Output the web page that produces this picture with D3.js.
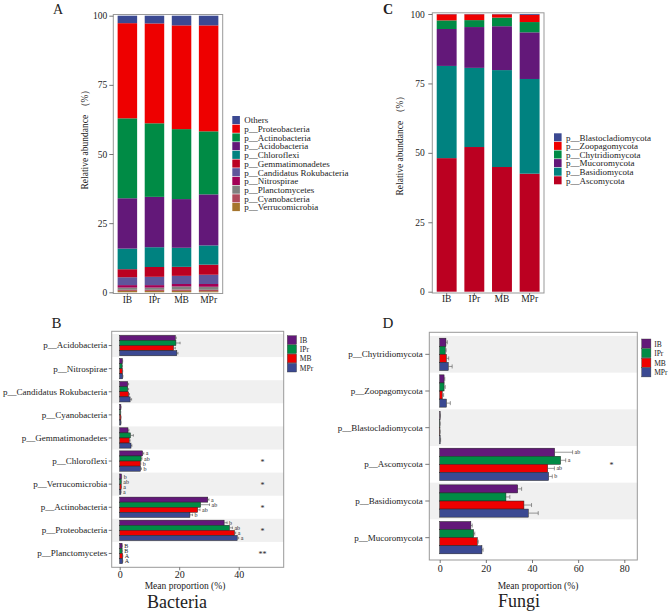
<!DOCTYPE html>
<html><head><meta charset="utf-8">
<script src="https://cdn.jsdelivr.net/npm/d3@7"></script>
<style>
body{margin:0;background:#fff}
svg{display:block}
text{font-family:"Liberation Serif","Times New Roman",serif;fill:#222}
</style>
</head><body>
<svg id="c" width="669" height="614"></svg>
<script>
// ---------- DATA ----------
const groups = ["IB","IPr","MB","MPr"];
const groupColors = ["#631879","#008B45","#EE0000","#3B4992"];

// Panel A (legend order, top -> bottom)
const bacStackPhyla = ["Others","p__Proteobacteria","p__Actinobacteria","p__Acidobacteria","p__Chloroflexi","p__Gemmatimonadetes","p__Candidatus Rokubacteria","p__Nitrospirae","p__Planctomycetes","p__Cyanobacteria","p__Verrucomicrobia"];
const bacStackColors = ["#3B4992","#EE0000","#008B45","#631879","#008280","#BB0021","#5F559B","#A20056","#808180","#B04A5D","#A5752E"];
const bacStackIB  = [2.7,34.4,28.9,18.2,7.45,2.9,2.85,0.9,0.8,0.4,0.5];
const bacStackIPr = [2.8,36.1,26.6,18.2,7.15,3.55,3.0,0.9,0.8,0.4,0.5];
const bacStackMB  = [3.5,37.5,25.3,17.6,6.9,3.25,2.95,0.9,1.1,0.5,0.5];
const bacStackMPr = [3.5,38.3,22.8,18.45,6.95,3.65,3.35,1.0,1.1,0.5,0.4];

// Panel C (legend order, top -> bottom)
const funStackPhyla = ["p__Blastocladiomycota","p__Zoopagomycota","p__Chytridiomycota","p__Mucoromycota","p__Basidiomycota","p__Ascomycota"];
const funStackColors = ["#3B4992","#EE0000","#008B45","#631879","#008280","#BB0021"];
const funStackIB  = [0.1,2.2,3.1,13.3,33.2,48.1];
const funStackIPr = [0.1,2.1,2.5,14.7,28.5,52.1];
const funStackMB  = [0.1,1.2,3.1,15.8,34.9,44.9];
const funStackMPr = [0.3,2.6,3.7,16.8,34.1,42.5];

const stackTicks = [0,25,50,75,100];

// Panel B (rows top -> bottom), values per group [IB, IPr, MB, MPr]
const bacRows = ["p__Acidobacteria","p__Nitrospirae","p__Candidatus Rokubacteria","p__Cyanobacteria","p__Gemmatimonadetes","p__Chloroflexi","p__Verrucomicrobia","p__Actinobacteria","p__Proteobacteria","p__Planctomycetes"];
const bacMean = [
  [18.7,18.9,18.1,19.2],
  [0.9,0.8,0.9,1.0],
  [2.7,2.7,3.0,3.5],
  [0.4,0.3,0.4,0.4],
  [2.8,3.6,3.2,3.8],
  [7.7,7.2,6.9,7.0],
  [0.6,0.5,0.5,0.4],
  [29.6,27.2,26.2,23.6],
  [35.1,36.9,38.6,39.5],
  [0.8,0.8,1.0,1.0]
];
const bacErr = [
  [0.3,1.4,0.6,0.4],
  [0.1,0.1,0.1,0.1],
  [0.3,0.3,0.3,0.5],
  [0.05,0.05,0.05,0.05],
  [0.3,1.0,0.3,0.3],
  [0.4,0.3,0.2,0.3],
  [0.05,0.05,0.05,0.05],
  [0.4,3.0,0.8,0.9],
  [1.0,1.0,0.4,0.5],
  [0.05,0.05,0.05,0.05]
];
const bacLetters = [null,null,null,null,null,["a","ab","b","b"],["b","ab","a","a"],["a","ab","ab","b"],["b","ab","a","a"],["B","B","A","A"]];
const bacStars = ["","","","","","*","*","*","*","**"];
const bacTicks = [0,20,40];

// Panel D
const funRows = ["p__Chytridiomycota","p__Zoopagomycota","p__Blastocladiomycota","p__Ascomycota","p__Basidiomycota","p__Mucoromycota"];
const funMean = [
  [2.7,2.4,2.9,3.7],
  [1.9,1.9,1.1,2.9],
  [0.2,0.1,0.1,0.2],
  [49.8,52.4,46.8,47.2],
  [33.8,28.7,36.5,38.4],
  [13.5,14.7,16.3,18.3]
];
const funErr = [
  [0.6,0.4,1.0,1.7],
  [0.3,0.5,0.6,1.7],
  [0.1,0.1,0.1,0.2],
  [7.8,2.2,2.9,1.6],
  [1.7,1.7,3.3,4.3],
  [0.6,0.5,0.4,0.5]
];
const funLetters = [null,null,null,["ab","a","ab","b"],null,null];
const funStars = ["","","","*","",""];
const funTicks = [0,20,40,60,80];

// ---------- DRAW ----------
const svg = d3.select("#c");
svg.append("rect").attr("width",669).attr("height",614).attr("fill","#fff");
const FRAME = "#999";

function styleAxis(g, fs){
  g.select(".domain").remove();
  g.selectAll(".tick line").attr("stroke","#555").attr("stroke-width",0.8);
  g.selectAll(".tick text").attr("font-size",fs).attr("fill","#222")
    .attr("font-family",'"Liberation Serif",serif');
}

function stackPanel(c){
  const g = svg.append("g");
  const x = d3.scaleBand().domain(groups).range([c.x0,c.x1]).paddingInner(0.28).paddingOuter(0.16);
  const y = d3.scaleLinear().domain([0,100]).range([c.y0,c.y100]);
  const order = c.keys.slice().reverse(); // bottom -> top
  const table = groups.map((gr,i)=>{
    const o = {group:gr};
    c.keys.forEach((k,j)=>o[k]=c.vals[i][j]);
    return o;
  });
  const series = d3.stack().keys(order)(table);
  const colorOf = d3.scaleOrdinal().domain(c.keys).range(c.colors);
  g.append("rect").attr("x",c.x0).attr("y",c.fTop).attr("width",c.x1-c.x0).attr("height",c.fBot-c.fTop)
    .attr("fill","none").attr("stroke",FRAME).attr("stroke-width",1);
  series.forEach(s=>{
    g.selectAll(null).data(s).join("rect")
      .attr("x",d=>x(d.data.group)).attr("width",x.bandwidth())
      .attr("y",d=>y(d[1])).attr("height",d=>Math.max(0,y(d[0])-y(d[1])))
      .attr("fill",colorOf(s.key));
  });
  const ya = g.append("g").attr("transform",`translate(${c.x0},0)`)
    .call(d3.axisLeft(y).tickValues(stackTicks).tickSize(4).tickPadding(c.tickPad));
  styleAxis(ya,9.5);
  const xa = g.append("g").attr("transform",`translate(0,${c.fBot})`)
    .call(d3.axisBottom(x).tickSize(2).tickPadding(0.5));
  styleAxis(xa,9.5);
  g.append("text").attr("transform",`translate(${c.titleX},${c.titleY}) rotate(-90)`)
    .attr("font-size",9.5).attr("text-anchor","middle").text("Relative abundance （%）");
  // legend
  const lg = g.append("g");
  c.keys.forEach((k,j)=>{
    const yy = c.lgY + j*c.lgStep;
    lg.append("rect").attr("x",c.lgX).attr("y",yy).attr("width",7.6).attr("height",c.lgStep-0.6)
      .attr("fill",colorOf(k));
    lg.append("text").attr("x",c.lgX+12).attr("y",yy+c.lgStep/2+3).attr("font-size",9).text(k);
  });
}

stackPanel({x0:113.3,x1:222.7,y0:292.3,y100:15.7,fTop:14.5,fBot:293.5,
  keys:bacStackPhyla,colors:bacStackColors,vals:[bacStackIB,bacStackIPr,bacStackMB,bacStackMPr],
  tickPad:2,titleX:88,titleY:137,lgX:232.3,lgY:116,lgStep:8.7});
stackPanel({x0:432.3,x1:544,y0:291.7,y100:14,fTop:12.8,fBot:293,
  keys:funStackPhyla,colors:funStackColors,vals:[funStackIB,funStackIPr,funStackMB,funStackMPr],
  tickPad:3.5,titleX:403,titleY:143,lgX:554,lgY:133.3,lgStep:8.6});

function barPanel(c){
  const g = svg.append("g");
  const x = d3.scaleLinear().domain([0,c.xMax]).range([c.xz,c.xm]);
  const y = d3.scaleBand().domain(c.rows).range([c.r0,c.r1]);
  const inner = d3.scaleBand().domain(groups).range([0,y.bandwidth()]).paddingInner(0).paddingOuter(0.27);
  // shading
  c.rows.forEach((r,i)=>{
    if(i%2===0) g.append("rect").attr("x",c.fx0).attr("y",y(r)).attr("width",c.fx1-c.fx0)
      .attr("height",y.bandwidth()).attr("fill","#f0f0f0");
  });
  c.rows.forEach((r,i)=>{
    groups.forEach((gr,j)=>{
      const v=c.mean[i][j], e=c.err[i][j];
      const by = y(r)+inner(gr), bh = inner.bandwidth(), cy = by+bh/2;
      g.append("rect").attr("x",x(0)).attr("y",by).attr("width",x(v)-x(0)).attr("height",bh)
        .attr("fill",groupColors[j]).attr("stroke","#222").attr("stroke-width",0.5);
      g.append("line").attr("x1",x(v)).attr("x2",x(v+e)).attr("y1",cy).attr("y2",cy)
        .attr("stroke","#555").attr("stroke-width",0.6);
      g.append("line").attr("x1",x(v+e)).attr("x2",x(v+e)).attr("y1",cy-bh*0.25).attr("y2",cy+bh*0.25)
        .attr("stroke","#555").attr("stroke-width",0.6);
      if(c.letters[i]){
        g.append("text").attr("x",x(v+e)+2).attr("y",cy+2).attr("font-size",c.letterFs).text(c.letters[i][j]);
      }
    });
    if(c.stars[i]) g.append("text").attr("x",x(c.starAt)).attr("y",y(r)+y.bandwidth()/2+3.5)
      .attr("font-size",8).attr("text-anchor","middle").text(c.stars[i]);
  });
  g.append("rect").attr("x",c.fx0).attr("y",c.fy0).attr("width",c.fx1-c.fx0).attr("height",c.fy1-c.fy0)
    .attr("fill","none").attr("stroke",FRAME).attr("stroke-width",1);
  const ya = g.append("g").attr("transform",`translate(${c.fx0},0)`)
    .call(d3.axisLeft(y).tickSize(c.ytick).tickPadding(c.ypad));
  styleAxis(ya,9);
  const xa = g.append("g").attr("transform",`translate(0,${c.fy1})`)
    .call(d3.axisBottom(x).tickValues(c.ticks).tickSize(3).tickPadding(c.xpad));
  styleAxis(xa,10);
  g.append("text").attr("x",c.xlabX).attr("y",588.5).attr("font-size",9.5).attr("text-anchor","middle").text("Mean proportion (%)");
  g.append("text").attr("x",c.bigX).attr("y",c.bigY).attr("font-size",18).attr("text-anchor","middle").text(c.big);
  // legend
  groups.forEach((gr,j)=>{
    const yy=c.lgY+j*c.lgStep;
    g.append("rect").attr("x",c.lgX).attr("y",yy).attr("width",9.2).attr("height",c.lgStep-0.5)
      .attr("fill",groupColors[j]).attr("stroke","#333").attr("stroke-width",0.4);
    g.append("text").attr("x",c.lgX+12.5).attr("y",yy+c.lgStep/2+2.7).attr("font-size",7.5).text(gr);
  });
}

barPanel({rows:bacRows,mean:bacMean,err:bacErr,letters:bacLetters,stars:bacStars,ticks:bacTicks,
  xMax:40,xz:119.7,xm:238.7,r0:334,r1:565,fx0:111.7,fx1:283.7,fy0:331.3,fy1:567.3,
  ytick:3,ypad:1.5,xpad:0.6,starAt:48,letterFs:6,xlabX:185,big:"Bacteria",bigX:177,bigY:607.7,
  lgX:287.3,lgY:335.7,lgStep:9.2});
barPanel({rows:funRows,mean:funMean,err:funErr,letters:funLetters,stars:funStars,ticks:funTicks,
  xMax:80,xz:439.7,xm:624.3,r0:336,r1:556,fx0:429.3,fx1:637.3,fy0:332.3,fy1:560,
  ytick:4,ypad:2.6,xpad:1.4,starAt:74.5,letterFs:6,xlabX:538,big:"Fungi",bigX:519,bigY:606.5,
  lgX:641.7,lgY:339,lgStep:9.6});

// panel letters
svg.append("text").attr("x",53).attr("y",14).attr("font-size",14).text("A");
svg.append("text").attr("x",383).attr("y",14).attr("font-size",14).attr("font-weight","bold").text("C");
svg.append("text").attr("x",51.5).attr("y",328.3).attr("font-size",15).text("B");
svg.append("text").attr("x",382.5).attr("y",328.3).attr("font-size",15).text("D");
</script>
</body></html>
